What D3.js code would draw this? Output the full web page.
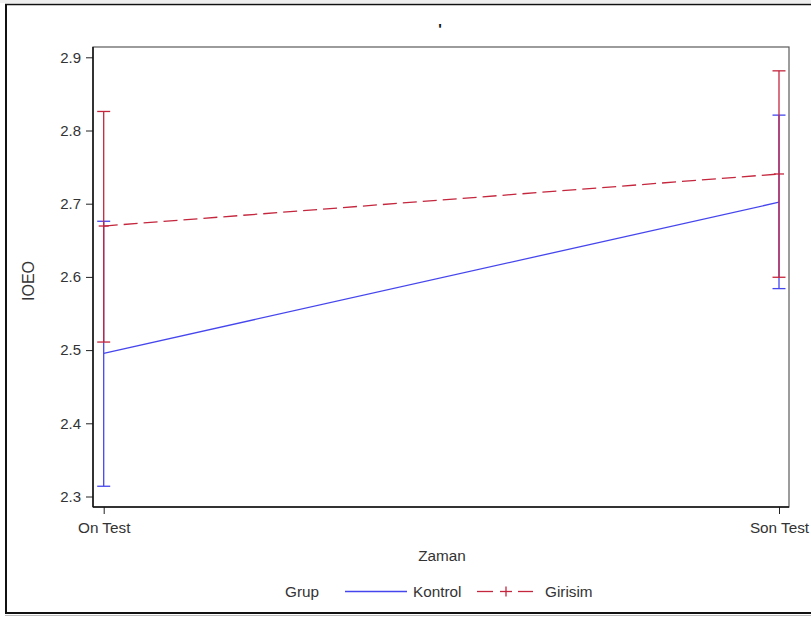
<!DOCTYPE html>
<html>
<head>
<meta charset="utf-8">
<script src="https://cdn.jsdelivr.net/npm/d3@7"></script>
<style>
  html, body { margin: 0; padding: 0; background: #fff; }
  svg { display: block; }
  text { font-family: "Liberation Sans", Arial, sans-serif; fill: #333; }
</style>
</head>
<body>
<svg id="chart" width="811" height="617"></svg>
<script>
// Time points and groups
const times = ["On Test", "Son Test"];
const groups = ["Kontrol", "Girisim"];

// Group means at each time point
const kontrolMean = [2.4956, 2.7020];
const girisimMean = [2.6695, 2.7406];

// Error bar limits
const kontrolLower = [2.314, 2.584];
const kontrolUpper = [2.676, 2.821];
const girisimLower = [2.511, 2.5995];
const girisimUpper = [2.826, 2.8815];

const yTicks = [2.3, 2.4, 2.5, 2.6, 2.7, 2.8, 2.9];

const colors = { Kontrol: "#4646ee", Girisim: "#c4263d" };

const series = [
  { name: "Kontrol", mean: kontrolMean, lo: kontrolLower, hi: kontrolUpper },
  { name: "Girisim", mean: girisimMean, lo: girisimLower, hi: girisimUpper }
];

const fs = "15.3px";
const svg = d3.select("#chart");

// page frame
svg.append("rect").attr("x", 0).attr("y", 0).attr("width", 811).attr("height", 3)
  .attr("fill", "#eeeeee");
svg.append("line").attr("x1", 6).attr("x2", 6).attr("y1", 4).attr("y2", 614)
  .attr("stroke", "#111").attr("stroke-width", 2);
svg.append("line").attr("x1", 5).attr("x2", 811).attr("y1", 4.5).attr("y2", 4.5)
  .attr("stroke", "#111").attr("stroke-width", 1.5);
svg.append("line").attr("x1", 5).attr("x2", 811).attr("y1", 613).attr("y2", 613)
  .attr("stroke", "#111").attr("stroke-width", 2);
svg.append("line").attr("x1", 5).attr("x2", 811).attr("y1", 615.5).attr("y2", 615.5)
  .attr("stroke", "#bbb").attr("stroke-width", 1);

// title mark
svg.append("text").attr("x", 440).attr("y", 34).attr("text-anchor", "middle")
  .style("font-size", "15px").style("font-weight", "bold").style("fill", "#111").text("'");

const plot = { left: 93, right: 789, top: 47, bottom: 507 };

const x = d3.scalePoint().domain(times).range([103.7, 779]);
const y = d3.scaleLinear().domain([2.3, 2.9]).range([496.5, 57.3]);

// plot frame
svg.append("rect")
  .attr("x", plot.left).attr("y", plot.top)
  .attr("width", plot.right - plot.left).attr("height", plot.bottom - plot.top)
  .attr("fill", "none").attr("stroke", "#5a5a5a").attr("stroke-width", 1.2);

// y axis
const yAxis = svg.append("g").attr("transform", `translate(${plot.left},0)`)
  .call(d3.axisLeft(y).tickValues(yTicks).tickFormat(d3.format(".1f")).tickSize(7).tickPadding(5));
yAxis.select(".domain").remove();
yAxis.selectAll("text").style("font-size", "15px").style("fill", "#333").attr("font-family", null);
yAxis.selectAll("line").attr("stroke", "#222");
svg.append("line").attr("x1", plot.left).attr("x2", plot.left)
  .attr("y1", plot.top).attr("y2", plot.bottom).attr("stroke", "#111").attr("stroke-width", 1.5);

// x axis
const xAxis = svg.append("g").attr("transform", `translate(0,${plot.bottom})`)
  .call(d3.axisBottom(x).tickSize(7).tickPadding(8));
xAxis.select(".domain").remove();
xAxis.selectAll("text").style("font-size", fs).style("fill", "#333").attr("font-family", null);
xAxis.selectAll("line").attr("stroke", "#222");
svg.append("line").attr("x1", plot.left).attr("x2", plot.right)
  .attr("y1", plot.bottom).attr("y2", plot.bottom).attr("stroke", "#111").attr("stroke-width", 1.5);

// axis titles
svg.append("text").attr("x", 442).attr("y", 561).attr("text-anchor", "middle")
  .style("font-size", fs).text("Zaman");
svg.append("text").attr("transform", "translate(34,281) rotate(-90)").attr("text-anchor", "middle")
  .style("font-size", "16px").text("IOEO");

const cap = 6.5;

// connecting lines
const line = d3.line().x((d, i) => x(times[i])).y(d => y(d));
series.forEach(s => {
  svg.append("path").datum(s.mean).attr("d", line)
    .attr("fill", "none").attr("stroke", colors[s.name]).attr("stroke-width", 1.3)
    .attr("stroke-dasharray", s.name === "Girisim" ? "14,6" : null);
});

// error bars (Girisim drawn last, on top)
series.forEach(s => {
  const g = svg.append("g").attr("stroke", colors[s.name]).attr("stroke-width", 1.3);
  times.forEach((t, i) => {
    const cx = x(t);
    g.append("line").attr("x1", cx).attr("x2", cx).attr("y1", y(s.lo[i])).attr("y2", y(s.hi[i]));
    g.append("line").attr("x1", cx - cap).attr("x2", cx + cap).attr("y1", y(s.lo[i])).attr("y2", y(s.lo[i]));
    g.append("line").attr("x1", cx - cap).attr("x2", cx + cap).attr("y1", y(s.hi[i])).attr("y2", y(s.hi[i]));
    if (s.name === "Girisim") {
      // plus marker at the mean
      g.append("line").attr("x1", cx - 5).attr("x2", cx + 5).attr("y1", y(s.mean[i])).attr("y2", y(s.mean[i]));
    }
  });
});

// legend
const ly = 591.5;
svg.append("text").attr("x", 285).attr("y", ly + 5).style("font-size", fs).text("Grup");
svg.append("line").attr("x1", 345).attr("x2", 407).attr("y1", ly).attr("y2", ly)
  .attr("stroke", colors.Kontrol).attr("stroke-width", 1.3);
svg.append("text").attr("x", 413).attr("y", ly + 5).style("font-size", fs).text(groups[0]);
const lg = svg.append("g").attr("stroke", colors.Girisim).attr("stroke-width", 1.3);
lg.append("line").attr("x1", 477).attr("x2", 493).attr("y1", ly).attr("y2", ly);
lg.append("line").attr("x1", 500).attr("x2", 512).attr("y1", ly).attr("y2", ly);
lg.append("line").attr("x1", 506).attr("x2", 506).attr("y1", ly - 5).attr("y2", ly + 5);
lg.append("line").attr("x1", 518).attr("x2", 533).attr("y1", ly).attr("y2", ly);
svg.append("text").attr("x", 545).attr("y", ly + 5).style("font-size", fs).text(groups[1]);
</script>
</body>
</html>
